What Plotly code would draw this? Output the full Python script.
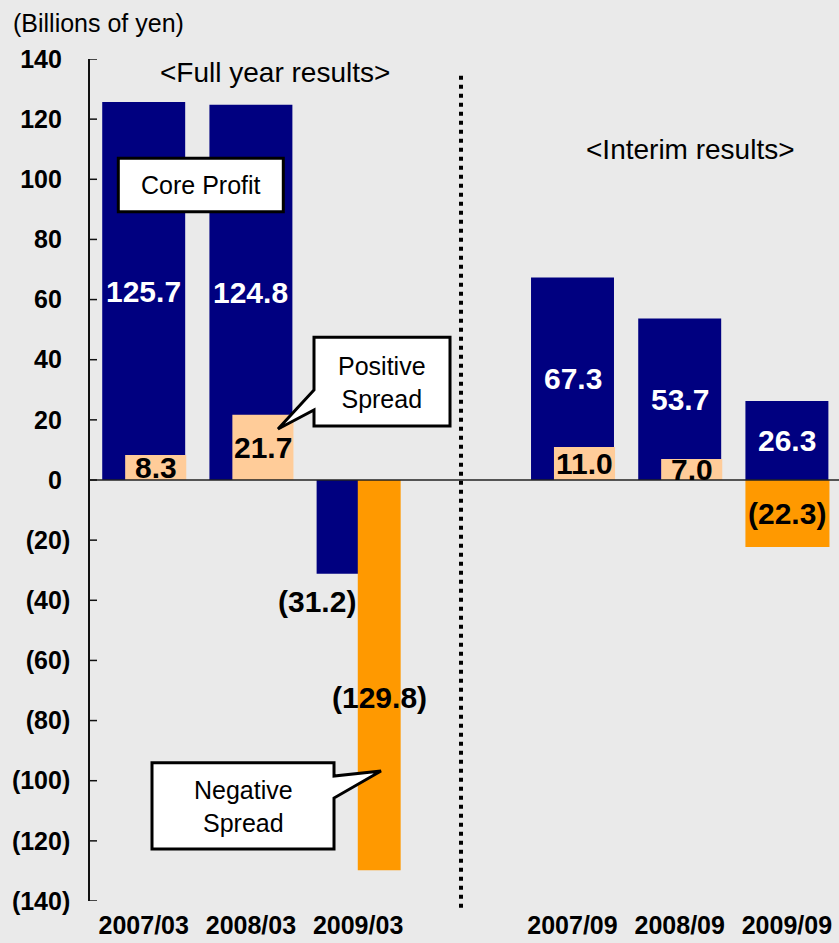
import plotly.graph_objects as go

# ---- data (billions of yen) ----
categories = ["2007/03", "2008/03", "2009/03", "2007/09", "2008/09", "2009/09"]
core_profit = [125.7, 124.8, -31.2, 67.3, 53.7, 26.3]
spread = [8.3, 21.7, -129.8, 11.0, 7.0, -22.3]
y_ticks = list(range(-140, 141, 20))

# ---- styling ----
NAVY = "#000080"
PEACH = "#FFCC99"
ORANGE = "#FF9900"
BG = "#eaeaea"
FONT = "Liberation Sans, Arial, sans-serif"

CORE_W = 0.774
HALF = CORE_W / 2
RIGHT = HALF + 0.01          # spread bars end flush with (a hair past) the core bar
# spread bar widths (right-aligned with the core-profit bar)
spread_w = [0.57, 0.57, 0.40, 0.57, 0.57, CORE_W + 0.01]

# slot index: interim periods sit after a one-slot gap
slots = [i + (1 if c.endswith("/09") else 0) for i, c in enumerate(categories)]
spread_off = [RIGHT - w for w in spread_w]
spread_col = [PEACH if v >= 0 else ORANGE for v in spread]


def fmt(v):
    return f"({abs(v):.1f})" if v < 0 else f"{v:.1f}"


fig = go.Figure()
fig.add_trace(go.Bar(
    x=slots, y=core_profit, width=CORE_W,
    marker=dict(color=NAVY, line=dict(width=0)),
    hoverinfo="skip", showlegend=False,
))
fig.add_trace(go.Bar(
    x=slots, y=spread, width=spread_w, offset=spread_off,
    marker=dict(color=spread_col, line=dict(width=0)),
    hoverinfo="skip", showlegend=False,
))

annotations = []
bold = dict(family=FONT, size=30, color="black", weight="bold")

# core profit value labels
for s, v in zip(slots, core_profit):
    if v >= 0:
        annotations.append(dict(x=s, y=v / 2, text=fmt(v), showarrow=False,
                                font=dict(bold, color="white")))
    else:
        annotations.append(dict(x=s - HALF, y=v, text=fmt(v), showarrow=False,
                                yshift=-28, font=bold))

# spread value labels
for s, v, w in zip(slots, spread, spread_w):
    cx = s + RIGHT - w / 2
    shift = -22 if v < -100 else 0
    annotations.append(dict(x=cx, y=v / 2, text=fmt(v), showarrow=False,
                            yshift=shift, font=bold))

plain = dict(family=FONT, size=25, color="black")
annotations += [
    dict(xref="paper", yref="paper", x=-0.1055, y=(901 - 23) / 842,
         xanchor="left", yanchor="middle", text="(Billions of yen)",
         showarrow=False, font=plain),
    dict(x=(274.5 - 143.7) / 107.2, y=(480 - 73) / 3.007, text="&lt;Full year results&gt;",
         showarrow=False, font=dict(plain, size=28)),
    dict(x=(690 - 143.7) / 107.2, y=(480 - 150) / 3.007, text="&lt;Interim results&gt;",
         showarrow=False, font=dict(plain, size=28)),
    dict(x=(200.8 - 143.7) / 107.2, y=(480 - 185) / 3.007, text="Core Profit",
         showarrow=False, font=plain),
    dict(x=(382 - 143.7) / 107.2, y=(480 - 382) / 3.007, text="Positive<br>Spread",
         showarrow=False, font=plain),
    dict(x=(243 - 143.7) / 107.2, y=(480 - 806) / 3.007, text="Negative<br>Spread",
         showarrow=False, font=plain),
]


def px(xp):
    return (xp - 143.7) / 107.2


def py(yp):
    return (480 - yp) / 3.007


def path(points):
    return "M " + " L ".join(f"{px(a):.4f},{py(b):.4f}" for a, b in points) + " Z"


callout = dict(type="path", xref="x", yref="y", fillcolor="white",
               line=dict(color="black", width=3), layer="above")
shapes = [
    # "Core Profit" label box
    dict(callout, path=path([(118.3, 158.3), (283.3, 158.3), (283.3, 211.7), (118.3, 211.7)])),
    # "Positive Spread" callout pointing at the 2008/03 spread bar
    dict(callout, path=path([(314, 337.3), (450, 337.3), (450, 426), (314, 426),
                             (314, 410), (278, 429), (314, 390)])),
    # "Negative Spread" callout pointing at the 2009/03 spread bar
    dict(callout, path=path([(152, 762.7), (334, 762.7), (334, 776), (381, 771),
                             (334, 798), (334, 849), (152, 849)])),
    # zero line
    dict(type="line", xref="paper", yref="y", x0=0, x1=1, y0=0, y1=0,
         line=dict(color="#222222", width=1.5), layer="above"),
    # dotted divider between full-year and interim results
    dict(type="line", xref="paper", yref="paper", x0=(461 - 90) / 749, x1=(461 - 90) / 749,
         y0=-0.008, y1=0.983, line=dict(color="black", width=4, dash="4px,5px")),
]

# inside tick marks on the value axis
for t in y_ticks:
    shapes.append(dict(type="line", xref="paper", yref="y", x0=0, x1=7 / 749,
                       y0=t, y1=t, line=dict(color="#111111", width=1.5), layer="above"))

hidden = "<span style='color:rgba(0,0,0,0)'>)</span>"
y_text = [f"({abs(t)})" if t < 0 else f"{t}{hidden}" for t in y_ticks]

fig.update_layout(
    width=839, height=943,
    margin=dict(l=90, r=0, t=59, b=42),
    paper_bgcolor=BG, plot_bgcolor=BG,
    barmode="overlay",
    annotations=annotations,
    shapes=shapes,
    xaxis=dict(
        range=[-0.501, 6.486], showgrid=False, zeroline=False, showline=False,
        tickmode="array", tickvals=slots, ticktext=categories, ticks="",
        tickfont=dict(family=FONT, size=25, color="black", weight="bold"),
        ticklabelstandoff=7,
    ),
    yaxis=dict(
        range=[-140, 140], showgrid=False, zeroline=False,
        showline=True, linecolor="#111111", linewidth=1.5,
        ticks="", tickmode="array", tickvals=y_ticks, ticktext=y_text,
        tickfont=dict(family=FONT, size=25, color="black", weight="bold"),
        ticklabelstandoff=13,
    ),
)

fig.write_html("out.html")
